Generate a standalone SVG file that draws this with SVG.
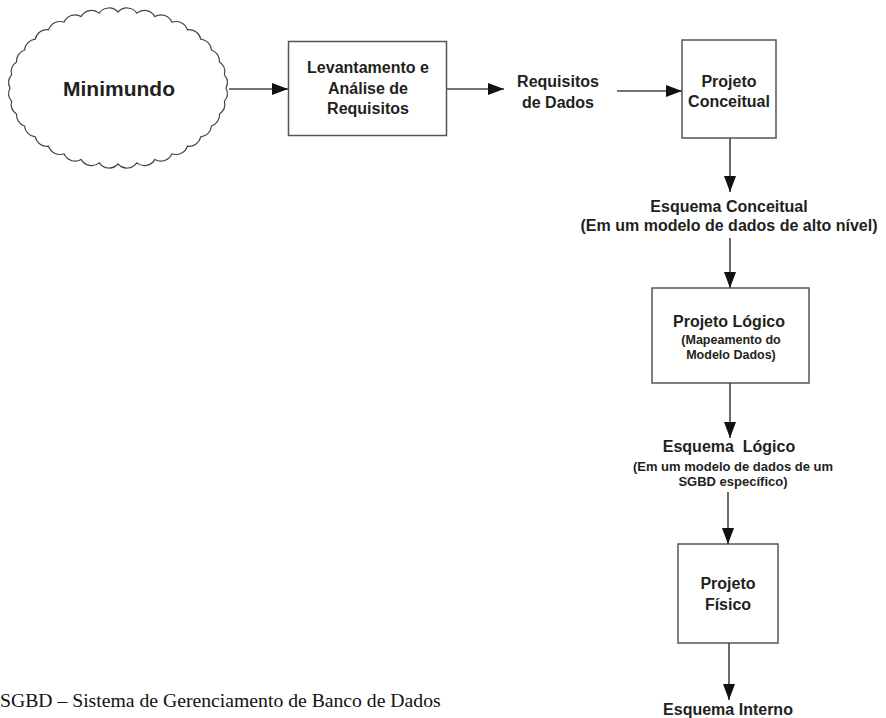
<svg xmlns="http://www.w3.org/2000/svg" width="886" height="718" viewBox="0 0 886 718">
<style>
.box{fill:#fff;stroke:#555;stroke-width:1.5}
.cloud{fill:#fff;stroke:#444;stroke-width:1.2}
.t{font-family:"Liberation Sans",Arial,sans-serif;font-weight:bold;fill:#231f20;text-anchor:middle}
.m{font-size:16px}
.s{font-size:12.5px}
.x{font-size:13px}
.c{stroke:#444;stroke-width:1.6;fill:none;marker-end:url(#ah)}
</style>
<defs>
<marker id="ah" markerUnits="userSpaceOnUse" markerWidth="17" markerHeight="13" refX="16" refY="6" orient="auto">
<path d="M0,0 L16,6 L0,12 z" fill="#111"/>
</marker>
</defs>
<rect width="886" height="718" fill="#fff"/>
<g id="minimundo">
<path class="cloud" d="M226,88 A12 12 0 0 1 224.4,101.2 A12 12 0 0 1 219.5,114 A12 12 0 0 1 211.5,126 A12 12 0 0 1 200.7,136.9 A12 12 0 0 1 187.4,146.2 A12 12 0 0 1 172,153.8 A12 12 0 0 1 154.9,159.4 A12 12 0 0 1 136.8,162.9 A12 12 0 0 1 118,164 A12 12 0 0 1 99.2,162.9 A12 12 0 0 1 81.1,159.4 A12 12 0 0 1 64,153.8 A12 12 0 0 1 48.6,146.2 A12 12 0 0 1 35.3,136.9 A12 12 0 0 1 24.5,126 A12 12 0 0 1 16.5,114 A12 12 0 0 1 11.6,101.2 A12 12 0 0 1 10,88 A12 12 0 0 1 11.6,74.8 A12 12 0 0 1 16.5,62 A12 12 0 0 1 24.5,50 A12 12 0 0 1 35.3,39.1 A12 12 0 0 1 48.6,29.8 A12 12 0 0 1 64,22.2 A12 12 0 0 1 81.1,16.6 A12 12 0 0 1 99.2,13.1 A12 12 0 0 1 118,12 A12 12 0 0 1 136.8,13.1 A12 12 0 0 1 154.9,16.6 A12 12 0 0 1 172,22.2 A12 12 0 0 1 187.4,29.8 A12 12 0 0 1 200.7,39.1 A12 12 0 0 1 211.5,50 A12 12 0 0 1 219.5,62 A12 12 0 0 1 224.4,74.8 A12 12 0 0 1 226,88 Z"/>
<text class="t" x="119" y="96" font-size="21">Minimundo</text>
</g>
<g id="levantamento">
<rect class="box" x="288.5" y="41.5" width="158" height="94"/>
<text class="t m" x="368" y="73">Levantamento e</text>
<text class="t m" x="368" y="93.5">Análise de</text>
<text class="t m" x="368" y="114">Requisitos</text>
</g>
<g id="requisitos-dados">
<text class="t m" x="558" y="87">Requisitos</text>
<text class="t m" x="558" y="108">de Dados</text>
</g>
<g id="projeto-conceitual">
<rect class="box" x="682" y="40" width="94" height="98"/>
<text class="t m" x="729" y="87">Projeto</text>
<text class="t m" x="729" y="107">Conceitual</text>
</g>
<g id="esquema-conceitual">
<text class="t m" x="729" y="212">Esquema Conceitual</text>
<text class="t m" x="729" y="231">(Em um modelo de dados de alto nível)</text>
</g>
<g id="projeto-logico">
<rect class="box" x="652" y="288" width="157" height="95"/>
<text class="t m" x="729" y="327">Projeto Lógico</text>
<text class="t s" x="731" y="344">(Mapeamento do</text>
<text class="t s" x="731" y="359">Modelo Dados)</text>
</g>
<g id="esquema-logico">
<text class="t m" x="729" y="452" xml:space="preserve">Esquema  Lógico</text>
<text class="t x" x="733" y="471">(Em um modelo de dados de um</text>
<text class="t x" x="733" y="486">SGBD específico)</text>
</g>
<g id="projeto-fisico">
<rect class="box" x="678" y="544" width="100" height="99"/>
<text class="t m" x="728" y="589">Projeto</text>
<text class="t m" x="728" y="610">Físico</text>
</g>
<g id="esquema-interno">
<text class="t m" x="728" y="715">Esquema Interno</text>
</g>
<g id="connectors">
<line class="c" x1="229" y1="89" x2="288" y2="89"/>
<line class="c" x1="447" y1="89" x2="504" y2="89"/>
<line class="c" x1="617" y1="91" x2="682" y2="91"/>
<line class="c" x1="730" y1="138" x2="730" y2="192"/>
<line class="c" x1="730" y1="238" x2="730" y2="288"/>
<line class="c" x1="730" y1="383" x2="730" y2="438"/>
<line class="c" x1="728" y1="492" x2="728" y2="544"/>
<line class="c" x1="729" y1="643" x2="729" y2="700"/>
</g>
<text x="0" y="707" font-family="'Liberation Serif','Times New Roman',serif" font-size="19.7" fill="#111">SGBD – Sistema de Gerenciamento de Banco de Dados</text>
</svg>
